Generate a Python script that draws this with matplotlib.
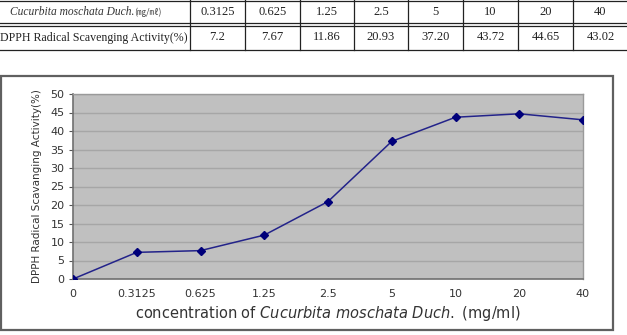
import matplotlib
matplotlib.use("Agg")
import matplotlib.pyplot as plt
from matplotlib.patches import Rectangle

concentrations = ["0", "0.3125", "0.625", "1.25", "2.5", "5", "10", "20", "40"]
activity = [0, 7.2, 7.67, 11.86, 20.93, 37.20, 43.72, 44.65, 43.02]
table_activity = ["7.2", "7.67", "11.86", "20.93", "37.20", "43.72", "44.65", "43.02"]
y_ticks = [0, 5, 10, 15, 20, 25, 30, 35, 40, 45, 50]

W, H = 627, 335
fig = plt.figure(figsize=(W / 100, H / 100), dpi=100)

# overlay in pixel coords for the table and the chart frame
ov = fig.add_axes([0, 0, 1, 1])
ov.set_xlim(0, W)
ov.set_ylim(H, 0)
ov.axis("off")

serif = ["Liberation Serif", "Noto Sans CJK KR"]
col_edges = [190, 245, 300, 354, 408, 463, 518, 573, 628]
for y in [0.8, 23, 25.5, 49.5]:
    ov.plot([0, W], [y, y], color="#222222", lw=0.9)
for x in col_edges[:-1]:
    ov.plot([x, x], [0, 49.5], color="#222222", lw=0.9)

ov.text(134, 12, "Cucurbita moschata Duch.", family=serif, style="italic",
        fontsize=8.3, ha="right", va="center", color="#333333")
ov.text(134, 12, "(㎎/㎖)", family=["Noto Sans CJK KR"], fontsize=6.5,
        ha="left", va="center", color="#444444")
ov.text(94, 37.5, "DPPH Radical Scavenging Activity(%)", family=serif,
        fontsize=8.6, ha="center", va="center", color="#222222")
for i in range(8):
    cx = (col_edges[i] + col_edges[i + 1]) / 2
    ov.text(cx, 12, concentrations[i + 1], family=serif, fontsize=9,
            ha="center", va="center", color="#222222")
    ov.text(cx, 37.5, table_activity[i], family=serif, fontsize=9,
            ha="center", va="center", color="#222222")

ov.add_patch(Rectangle((1, 76), 612, 254, fill=False, ec="#606060", lw=1.6))

# chart
ax = fig.add_axes([73 / W, 1 - 279 / H, 510 / W, 185 / H])
ax.set_facecolor("#c0c0c0")
x = list(range(len(concentrations)))
ax.plot(x, activity, color="#23238a", lw=1.1, marker="D", ms=4.5,
        mfc="#00007a", mec="#00007a", zorder=3)
ax.set_xlim(0, len(concentrations) - 1)
ax.set_ylim(0, 50)
ax.set_yticks(y_ticks)
ax.set_xticks(x)
ax.set_xticklabels(concentrations)
ax.yaxis.grid(True, color="#a6a6a6", lw=1.0)
ax.set_axisbelow(True)
for s in ["top", "right"]:
    ax.spines[s].set_color("#9a9a9a")
    ax.spines[s].set_linewidth(1.0)
for s in ["left", "bottom"]:
    ax.spines[s].set_color("#707070")
    ax.spines[s].set_linewidth(1.2)
ax.tick_params(axis="y", length=3, color="#555555", labelsize=8,
               labelcolor="#333333", pad=3)
ax.tick_params(axis="x", length=0, labelsize=8, labelcolor="#333333", pad=7)
ax.set_ylabel("DPPH Radical Scavanging Activity(%)", fontsize=7.5,
              color="#333333", labelpad=6)
ax.set_xlabel(r"concentration of $\it{Cucurbita\ moschata\ Duch.}$ (mg/ml)",
              fontsize=10.5, color="#333333", labelpad=4)

fig.savefig("out.png", dpi=100)
